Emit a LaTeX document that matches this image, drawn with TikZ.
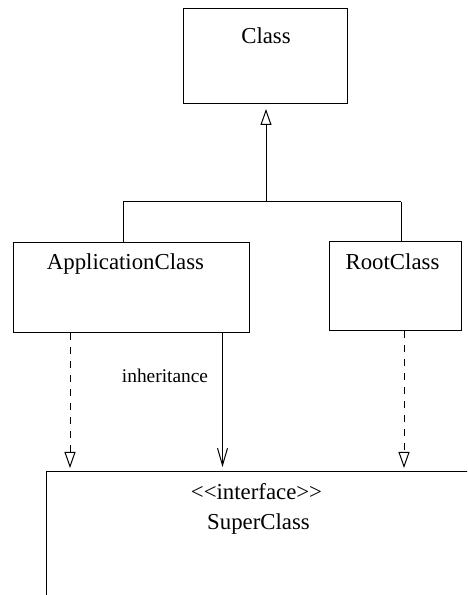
\documentclass[tikz,border=0pt]{standalone}
\usepackage{fontspec}
\setmainfont{Liberation Serif}
\usetikzlibrary{arrows.meta,positioning}

\begin{document}
\begin{tikzpicture}[x=0.5pt, y=0.5pt, line width=0.5pt,
  classbox/.style={draw, rectangle, inner sep=0pt, anchor=north west},
  cname/.style={anchor=base, inner sep=0pt, font=\fontsize{11.4}{13}\selectfont},
  gen/.style={-{Triangle[open,length=8pt,width=5.5pt]}},
  realize/.style={gen, dash pattern=on 3.5pt off 3.5pt},
  dep/.style={-{Straight Barb[length=8.5pt,width=5pt]}}]
\useasboundingbox (0,0) rectangle (467,595);
\clip (0,0) rectangle (467,595);

% classes
\node[classbox, minimum width=82pt, minimum height=47.5pt] (class) at (183,587) {};
\node[cname] (classlbl) at (266,551) {Class};
\node[classbox, minimum width=118.25pt, minimum height=45pt] (app) at (12.5,353) {};
\node[cname] (applbl) at (125.5,325) {ApplicationClass};
\node[classbox, minimum width=66pt, minimum height=44.75pt] (root) at (329,354) {};
\node[cname] (rootlbl) at (392.5,325) {RootClass};

% interface (runs off the page)
\node[classbox, minimum width=250pt, minimum height=100pt] (super) at (46,124) {};
\node[cname] (stereo) at (256.5,95) {\textless{}\textless{}interface\textgreater{}\textgreater{}};
\node[cname] (superlbl) at (258.5,65) {SuperClass};

% generalization to Class
\coordinate (fork) at (266,393);
\coordinate (forkL) at (123,393);
\coordinate (forkR) at (401,393);
\draw (forkL) -- (forkR);
\draw (forkL) -- (forkL |- app.north);
\draw (forkR) -- (forkR |- root.north);
\draw[gen, shorten >=2.5pt] (fork) -- (fork |- class.south);

% realizations of SuperClass
\coordinate (realL) at (70,0);
\coordinate (realR) at (404,0);
\coordinate (inh) at (222.5,0);
\draw[realize, shorten >=1.5pt] (app.south -| realL) -- (super.north -| realL);
\draw[realize, shorten >=1.5pt] (root.south -| realR) -- (super.north -| realR);
\draw[dep, shorten >=2pt] (app.south -| inh) -- (super.north -| inh);
\node[anchor=base, inner sep=0pt, font=\fontsize{9.7}{11}\selectfont] (inhlbl) at (165,212) {inheritance};
\end{tikzpicture}
\end{document}
